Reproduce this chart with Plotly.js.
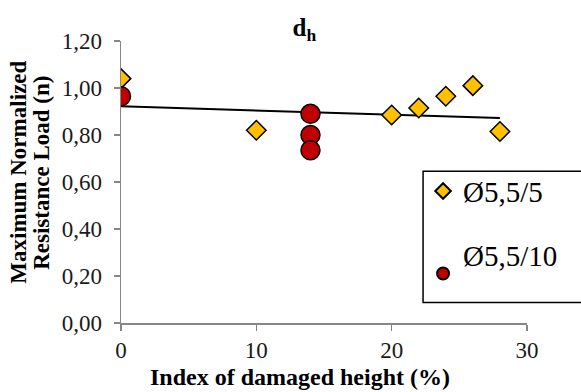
<!DOCTYPE html>
<html>
<head>
<meta charset="utf-8">
<script src="https://cdn.plot.ly/plotly-3.0.1.min.js"></script>
<style>html,body{margin:0;padding:0;background:#fff;}#chart{width:581px;height:392px;}</style>
</head>
<body>
<div id="chart"></div>
<script>
// Series Ø5,5/5 (diamonds)
var seriesAName = "Ø5,5/5";
var seriesAX = [0, 10, 20, 22, 24, 26, 28];
var seriesAY = [1.04, 0.82, 0.885, 0.915, 0.965, 1.01, 0.815];
// Series Ø5,5/10 (circles)
var seriesBName = "Ø5,5/10";
var seriesBX = [0, 14, 14, 14];
var seriesBY = [0.965, 0.89, 0.80, 0.735];
// Linear trend line
var trendX = [0, 28];
var trendY = [0.922, 0.872];

var chartTitle = "<b>d<sub>h</sub></b>";
var xTitle = "<b>Index of damaged height (%)</b>";
var yTitleLines = ["<b>Maximum Normalized</b>", "<b>Resistance Load (n)</b>"];

var serif = "Times New Roman, Liberation Serif, serif";

var traces = [
  {x: trendX, y: trendY, mode: "lines", type: "scatter", showlegend: false,
   line: {color: "#000000", width: 2}, hoverinfo: "skip"},
  {x: seriesAX, y: seriesAY, mode: "markers", type: "scatter", name: seriesAName,
   legendgroup: "a",
   marker: {symbol: "diamond", size: 15, color: "#FFC000", line: {color: "#000000", width: 1.5}}},
  {x: seriesBX, y: seriesBY, mode: "markers", type: "scatter", name: seriesBName + "<br> ",
   legendgroup: "b",
   marker: {symbol: "circle", size: 19, color: "#C00000", line: {color: "#000000", width: 1.5}}}
];

var axisBase = {
  showgrid: false, zeroline: false, showline: true, linecolor: "#868686", linewidth: 1.5,
  ticks: "outside", ticklen: 6, tickwidth: 1.5, tickcolor: "#868686",
  tickfont: {family: serif, size: 23, color: "#1a1a1a"}
};

var titleFont = {family: serif, size: 23, color: "#000"};

var layout = {
  width: 581, height: 392,
  margin: {l: 121, r: 54, t: 41, b: 69},
  paper_bgcolor: "#ffffff", plot_bgcolor: "#ffffff",
  separators: ", ",
  font: {family: serif},
  title: {text: chartTitle, font: {family: serif, size: 25, color: "#000"},
          x: 0.524, xref: "container", y: 0.93, yref: "container", yanchor: "middle"},
  xaxis: Object.assign({}, axisBase, {range: [0, 30], dtick: 10, tick0: 0}),
  yaxis: Object.assign({}, axisBase, {range: [0, 1.2], dtick: 0.2, tick0: 0, tickformat: ".2f",
    ticklabelstandoff: 7}),
  annotations: [
    {text: xTitle, xref: "paper", yref: "paper", x: 0.441, y: -0.193,
     xanchor: "center", yanchor: "middle", showarrow: false, font: {family: serif, size: 24, color: "#000"}},
    {text: yTitleLines[0], xref: "paper", yref: "paper", x: -0.253, y: 0.534, textangle: -90,
     xanchor: "center", yanchor: "middle", showarrow: false, font: titleFont},
    {text: yTitleLines[1], xref: "paper", yref: "paper", x: -0.196, y: 0.534, textangle: -90,
     xanchor: "center", yanchor: "middle", showarrow: false, font: titleFont}
  ],
  shapes: [
    {type: "rect", xref: "paper", yref: "paper", x0: 0.744, x1: 1.2, y0: 0.073, y1: 0.538,
     line: {color: "#000000", width: 1.5}, fillcolor: "#ffffff", layer: "above"}
  ],
  showlegend: true,
  legend: {
    x: 0.744, xanchor: "left", y: 0.558, yanchor: "top",
    bgcolor: "rgba(0,0,0,0)", borderwidth: 0,
    font: {family: serif, size: 29, color: "#000"},
    tracegroupgap: 23, valign: "middle", itemsizing: "constant"
  }
};

Plotly.newPlot("chart", traces, layout, {staticPlot: true, displayModeBar: false});
</script>
</body>
</html>
